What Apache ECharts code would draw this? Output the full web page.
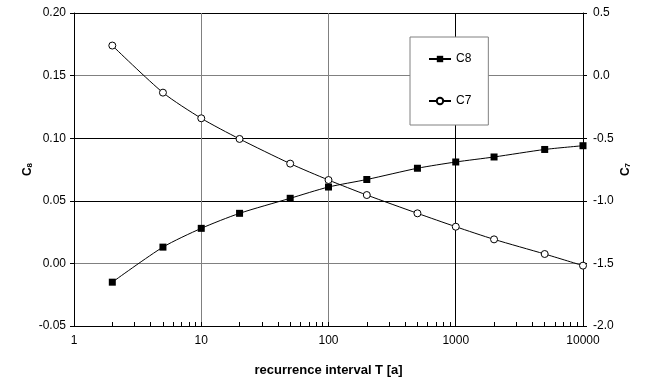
<!DOCTYPE html>
<html>
<head>
<meta charset="utf-8">
<script src="https://cdn.jsdelivr.net/npm/echarts@6.0.0/dist/echarts.min.js"></script>
<style>
  html, body { margin: 0; padding: 0; background: #fff; }
  #chart { width: 646px; height: 378px; }
</style>
</head>
<body>
<div id="chart"></div>
<script>
// recurrence intervals T [a]
const periods = [2, 5, 10, 20, 50, 100, 200, 500, 1000, 2000, 5000, 10000];
// C8 (left axis)
const c8Values = [-0.015, 0.013, 0.028, 0.040, 0.052, 0.061, 0.067, 0.076, 0.081, 0.085, 0.091, 0.094];
// C7 (right axis)
const c7Values = [0.24, -0.136, -0.341, -0.506, -0.703, -0.834, -0.954, -1.100, -1.207, -1.308, -1.425, -1.518];
// minor + major tick positions on the log axis
const xTicks = [1, 2, 3, 4, 5, 6, 7, 8, 9, 10, 20, 30, 40, 50, 60, 70, 80, 90,
  100, 200, 300, 400, 500, 600, 700, 800, 900, 1000, 2000, 3000, 4000, 5000,
  6000, 7000, 8000, 9000, 10000];

const font = '"Liberation Sans", Arial, sans-serif';
const chart = echarts.init(document.getElementById('chart'));

const subName = (base, sub) => ({
  name: '{c|' + base + '}{s|' + sub + '}',
  nameMoveOverlap: false,
  nameTextStyle: {
    rich: {
      c: { fontFamily: font, fontSize: 12, fontWeight: 'bold', color: '#000', lineHeight: 15, verticalAlign: 'bottom' },
      s: { fontFamily: font, fontSize: 8, fontWeight: 'bold', color: '#000', lineHeight: 15, verticalAlign: 'bottom' }
    }
  }
});

chart.setOption({
  animation: false,
  backgroundColor: '#fff',
  textStyle: { fontFamily: font },
  grid: { left: 74, right: 63, top: 13, bottom: 52, outerBoundsMode: 'none' },
  legend: {
    left: 410,
    top: 37,
    orient: 'vertical',
    backgroundColor: '#fff',
    borderColor: '#808080',
    borderWidth: 1,
    padding: [16, 17, 18, 18],
    itemGap: 30,
    itemWidth: 22,
    itemHeight: 8,
    textStyle: { fontFamily: font, fontSize: 12, color: '#000' },
    data: ['C8', 'C7']
  },
  xAxis: [
    {
      type: 'log',
      logBase: 10,
      min: 1,
      max: 10000,
      name: 'recurrence interval T [a]',
      nameLocation: 'middle',
      nameGap: 38,
      nameMoveOverlap: false,
      nameTextStyle: { fontFamily: font, fontSize: 13, fontWeight: 'bold', color: '#000' },
      axisLine: { onZero: false, lineStyle: { color: '#000', width: 1 } },
      axisTick: { show: false },
      axisLabel: { fontFamily: font, fontSize: 12, color: '#000', margin: 9, formatter: v => String(v) },
      splitLine: { show: true, lineStyle: { color: ['#000', '#808080', '#808080', '#000', '#000'], width: 1 } }
    },
    {
      // minor ticks only
      type: 'log',
      logBase: 10,
      min: 1,
      max: 10000,
      position: 'bottom',
      axisLine: { show: false, onZero: false },
      axisTick: { show: true, inside: true, length: 4, lineStyle: { color: '#000' }, customValues: xTicks },
      axisLabel: { show: false },
      splitLine: { show: false }
    }
  ],
  yAxis: [
    Object.assign({
      type: 'value',
      position: 'left',
      min: -0.05,
      max: 0.20,
      interval: 0.05,
      nameLocation: 'middle',
      nameRotate: 90,
      nameGap: 40,
      axisLine: { show: true, lineStyle: { color: '#000', width: 1 } },
      axisTick: { show: true, length: 4, lineStyle: { color: '#000' } },
      axisLabel: { fontFamily: font, fontSize: 12, color: '#000', margin: 8, formatter: v => v.toFixed(2) },
      splitLine: { show: true, lineStyle: { color: ['#000', '#808080', '#000', '#000', '#808080', '#000'], width: 1 } }
    }, subName('C', '8')),
    Object.assign({
      type: 'value',
      position: 'right',
      min: -2.0,
      max: 0.5,
      interval: 0.5,
      nameLocation: 'middle',
      nameRotate: 90,
      nameGap: 34,
      axisLine: { show: true, lineStyle: { color: '#000', width: 1 } },
      axisTick: { show: true, length: 4, lineStyle: { color: '#000' } },
      axisLabel: { fontFamily: font, fontSize: 12, color: '#000', margin: 10, formatter: v => v.toFixed(1) },
      splitLine: { show: false }
    }, subName('C', '7'))
  ],
  series: [
    {
      name: 'C8',
      type: 'line',
      yAxisIndex: 0,
      data: periods.map((t, i) => [t, c8Values[i]]),
      smooth: 0.25,
      symbol: 'rect',
      symbolSize: 7,
      lineStyle: { color: '#000', width: 1 },
      itemStyle: { color: '#000' },
      z: 3
    },
    {
      name: 'C7',
      type: 'line',
      yAxisIndex: 1,
      data: periods.map((t, i) => [t, c7Values[i]]),
      smooth: 0.25,
      symbol: 'circle',
      symbolSize: 7,
      lineStyle: { color: '#000', width: 1 },
      itemStyle: { color: '#fff', borderColor: '#000', borderWidth: 1 },
      z: 3
    }
  ]
});
</script>
</body>
</html>
